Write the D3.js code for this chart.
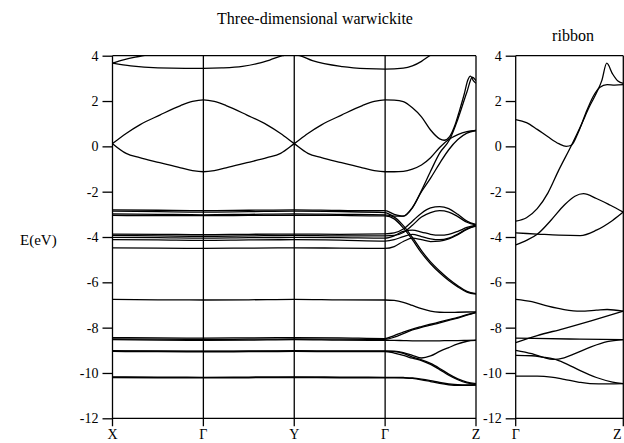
<!DOCTYPE html>
<html>
<head>
<meta charset="utf-8">
<script src="https://cdn.jsdelivr.net/npm/d3@7"></script>
<style>
  body { margin: 0; background: #fff; }
  text { font-family: "Liberation Serif", "Times New Roman", Times, "DejaVu Serif", serif; fill: #000; }
</style>
</head>
<body>
<script>
// k-path positions: X=0, Γ=1, Y=2, Γ=3, Z=4
const pathLabels = ['X', 'Γ', 'Y', 'Γ', 'Z'];
const ribbonLabels = ['Γ', 'Z'];
const yTicks = [4, 2, 0, -2, -4, -6, -8, -10, -12];

// shared grid for the nearly flat bands (X..Γ flat part, then Γ-Z detail)
const kGrid = [0, 0.5, 1, 1.5, 2, 2.5, 3, 3.1, 3.2, 3.3, 3.4, 3.5, 3.6, 3.7, 3.8, 3.9, 4];

const bandR2 = [-2.86,-2.88,-2.90,-2.88,-2.86,-2.88,-2.92, -3.08,-3.08,-2.70,-2.00,-1.40,-0.75,-0.15,0.30,0.58,0.70];
const bandD1 = [-2.98,-3.00,-3.02,-3.00,-2.98,-3.00,-3.02, -3.12,-3.50,-4.02,-4.60,-5.10,-5.50,-5.85,-6.15,-6.40,-6.50];
const bandD2 = [-3.04,-3.06,-3.06,-3.05,-3.04,-3.05,-3.07, -3.20,-3.60,-4.12,-4.70,-5.18,-5.58,-5.92,-6.20,-6.43,-6.52];
const bandA1 = [-3.87,-3.88,-3.90,-3.88,-3.87,-3.88,-3.86, -3.82,-3.65,-3.30,-2.95,-2.72,-2.66,-2.75,-3.00,-3.30,-3.45];
const bandA2 = [-3.93,-3.95,-3.97,-3.95,-3.93,-3.95,-3.95, -3.93,-3.80,-3.48,-3.12,-2.92,-2.84,-2.90,-3.10,-3.35,-3.47];
const bandB1 = [-4.02,-4.03,-4.05,-4.03,-4.02,-4.03,-4.05, -3.95,-3.75,-3.70,-3.78,-3.88,-3.92,-3.88,-3.75,-3.58,-3.48];
const bandB2 = [-4.12,-4.13,-4.15,-4.13,-4.12,-4.14,-4.18, -4.12,-3.98,-3.88,-3.98,-4.08,-4.12,-4.05,-3.87,-3.64,-3.50];
const bandB3 = [-4.48,-4.49,-4.50,-4.49,-4.48,-4.49,-4.50, -4.42,-4.20,-4.05,-4.12,-4.20,-4.18,-4.08,-3.90,-3.66,-3.52];
const bandE1 = [-6.75,-6.77,-6.78,-6.77,-6.75,-6.77,-6.78, -6.80,-6.88,-7.02,-7.16,-7.27,-7.32,-7.33,-7.32,-7.31,-7.30];
const bandF1 = [-8.44,-8.45,-8.46,-8.45,-8.44,-8.45,-8.48, -8.35,-8.20,-8.06,-7.95,-7.85,-7.75,-7.65,-7.55,-7.43,-7.32];
const bandF2 = [-8.50,-8.51,-8.52,-8.51,-8.50,-8.51,-8.52, -8.42,-8.26,-8.10,-7.99,-7.89,-7.79,-7.68,-7.58,-7.45,-7.33];
const bandK1 = [-8.53,-8.55,-8.56,-8.55,-8.53,-8.55,-8.56, -8.56,-8.57,-8.58,-8.58,-8.58,-8.58,-8.57,-8.57,-8.56,-8.55];
const bandG1 = [-9.02,-9.03,-9.04,-9.03,-9.02,-9.03,-9.03, -9.04,-9.10,-9.22,-9.34,-9.25,-9.05,-8.88,-8.72,-8.60,-8.56];
const bandG2 = [-9.05,-9.06,-9.07,-9.06,-9.05,-9.06,-9.06, -9.12,-9.22,-9.35,-9.45,-9.62,-9.85,-10.10,-10.30,-10.44,-10.50];
const bandG3 = [-9.04,-9.05,-9.05,-9.05,-9.04,-9.05,-9.05, -9.06,-9.14,-9.30,-9.42,-9.58,-9.80,-10.05,-10.26,-10.40,-10.47];
const bandH1 = [-10.17,-10.18,-10.19,-10.18,-10.17,-10.18,-10.19, -10.19,-10.20,-10.22,-10.27,-10.34,-10.42,-10.48,-10.52,-10.53,-10.52];
const bandH2 = [-10.20,-10.21,-10.21,-10.21,-10.20,-10.21,-10.21, -10.21,-10.22,-10.24,-10.30,-10.38,-10.46,-10.52,-10.55,-10.55,-10.53];

// dispersive bands with their own k points
const kCross = [0,0.15,0.3,0.52,0.75,0.88,1,1.12,1.25,1.48,1.7,1.85,2,2.15,2.3,2.52,2.75,2.88,3,
                3.1,3.2,3.3,3.4,3.5,3.6,3.7,3.8,3.9,4];
const bandAlpha = [0.12,0.57,0.95,1.38,1.8,1.98,2.05,1.98,1.8,1.38,0.95,0.57,0.12,-0.31,-0.5,-0.72,-0.95,-1.07,-1.12,
                   -1.12,-1.10,-1.00,-0.82,-0.50,-0.05,0.30,0.52,0.65,0.70];
const kBeta = [0,0.15,0.3,0.52,0.75,0.88,1,1.12,1.25,1.48,1.7,1.85,2,2.15,2.3,2.52,2.75,2.88,3,
               3.1,3.2,3.3,3.4,3.5,3.6,3.65,3.71,3.77,3.82,3.87,3.91,3.94,3.97,4];
const bandBeta = [0.12,-0.31,-0.5,-0.72,-0.95,-1.07,-1.12,-1.07,-0.95,-0.72,-0.5,-0.31,0.12,0.57,0.95,1.38,1.8,1.98,2.05,
                  2.04,1.97,1.70,1.30,0.72,0.33,0.27,0.43,0.95,1.60,2.30,2.93,3.10,2.90,2.78];
const kQ = [0,0.5,1,1.5,2,2.5,3,3.1,3.2,3.3,3.4,3.5,3.6,3.71,3.8,3.9,3.96,4];
const bandQ = [-2.80,-2.82,-2.84,-2.82,-2.80,-2.83,-2.84,-3.00,-3.08,-2.72,-1.95,-1.10,-0.30,0.30,1.20,2.40,3.05,2.90];
const kT1 = [0,0.12,0.25,0.34,0.45];
const bandT1 = [3.67,3.82,3.94,4.0,4.08];
const kT2 = [0,0.2,0.5,0.8,1,1.2,1.43,1.6,1.73,1.87,1.96,2.06,2.2,2.53,2.8,3,3.2,3.3,3.4,3.49,3.6];
const bandT2 = [3.67,3.55,3.46,3.44,3.44,3.46,3.53,3.66,3.81,4.0,4.06,4.0,3.78,3.52,3.43,3.41,3.45,3.55,3.75,4.0,4.25];

// ribbon bands, t from Γ (0) to Z (1)
const rib1t = [0,0.1,0.2,0.3,0.4,0.47,0.52,0.58,0.65,0.72,0.78,0.85,0.92,1];
const rib1E = [1.18,1.05,0.75,0.42,0.12,0.0,0.06,0.6,1.45,2.2,2.6,2.72,2.7,2.72];
const rib2t = [0,0.1,0.2,0.3,0.4,0.52,0.6,0.69,0.75,0.8,0.846,0.9,0.95,1];
const rib2E = [-3.3,-3.15,-2.75,-2.05,-1.05,0.06,0.85,1.8,2.35,2.9,3.67,3.2,2.88,2.78];
const rib3t = [0,0.1,0.2,0.33,0.45,0.55,0.63,0.75,0.88,1];
const rib3E = [-4.35,-4.15,-3.88,-3.25,-2.6,-2.2,-2.09,-2.3,-2.6,-2.9];
const rib4t = [0,0.2,0.4,0.6,0.75,0.9,1];
const rib4E = [-3.82,-3.87,-3.92,-3.94,-3.7,-3.27,-2.9];
const rib5t = [0,0.15,0.3,0.45,0.6,0.75,0.85,1];
const rib5E = [-6.75,-6.85,-7.05,-7.2,-7.27,-7.23,-7.2,-7.27];
const rib6t = [0,0.2,0.44,0.7,1];
const rib6E = [-8.66,-8.35,-8.05,-7.7,-7.27];
const rib7t = [0,0.5,1];
const rib7E = [-8.46,-8.5,-8.53];
const rib8t = [0,0.15,0.25,0.35,0.45,0.55,0.7,0.85,1];
const rib8E = [-9.0,-9.15,-9.3,-9.4,-9.33,-9.15,-8.85,-8.62,-8.53];
const rib9t = [0,0.15,0.25,0.35,0.45,0.6,0.75,0.9,1];
const rib9E = [-9.22,-9.24,-9.3,-9.38,-9.55,-9.9,-10.2,-10.4,-10.47];
const rib10t = [0,0.2,0.33,0.45,0.58,0.69,0.85,1];
const rib10E = [-10.14,-10.14,-10.18,-10.28,-10.4,-10.47,-10.48,-10.47];

const W = 624, H = 443;
const serif = '"Liberation Serif", "Times New Roman", Times, "DejaVu Serif", serif';
const svg = d3.select('body').append('svg')
    .attr('width', W)
    .attr('height', H);

const yTop = 55.7, yBot = 418.3;
const y = d3.scaleLinear().domain([-12, 4]).range([yBot, yTop]);
const x = d3.scaleLinear().domain([0, 4]).range([112.5, 476]);
const xr = d3.scaleLinear().domain([0, 1]).range([515.7, 623.3]);

// clip areas
const defs = svg.append('defs');
defs.append('clipPath').attr('id', 'clipMain').append('rect')
    .attr('x', x(0)).attr('y', yTop).attr('width', x(4) - x(0)).attr('height', yBot - yTop);
defs.append('clipPath').attr('id', 'clipRib').append('rect')
    .attr('x', xr(0)).attr('y', yTop).attr('width', xr(1) - xr(0)).attr('height', yBot - yTop);

const zip = (ks, es) => ks.map((k, i) => [k, es[i]]);

const mainBands = [
    zip(kGrid, bandR2), zip(kGrid, bandD1), zip(kGrid, bandD2),
    zip(kGrid, bandA1), zip(kGrid, bandA2), zip(kGrid, bandB1), zip(kGrid, bandB2), zip(kGrid, bandB3),
    zip(kGrid, bandE1), zip(kGrid, bandF1), zip(kGrid, bandF2), zip(kGrid, bandK1),
    zip(kGrid, bandG1), zip(kGrid, bandG2), zip(kGrid, bandG3), zip(kGrid, bandH1), zip(kGrid, bandH2),
    zip(kCross, bandAlpha), zip(kBeta, bandBeta), zip(kQ, bandQ),
    zip(kT1, bandT1), zip(kT2, bandT2)
];
const ribbonBands = [
    zip(rib1t, rib1E), zip(rib2t, rib2E), zip(rib3t, rib3E), zip(rib4t, rib4E), zip(rib5t, rib5E),
    zip(rib6t, rib6E), zip(rib7t, rib7E), zip(rib8t, rib8E), zip(rib9t, rib9E), zip(rib10t, rib10E)
];

const lineMain = d3.line().x(d => x(d[0])).y(d => y(d[1])).curve(d3.curveMonotoneX);
const lineRib = d3.line().x(d => xr(d[0])).y(d => y(d[1])).curve(d3.curveMonotoneX);

svg.append('g').attr('clip-path', 'url(#clipMain)')
    .selectAll('path').data(mainBands).enter().append('path')
    .attr('d', lineMain)
    .attr('fill', 'none').attr('stroke', '#000').attr('stroke-width', 1.3);

svg.append('g').attr('clip-path', 'url(#clipRib)')
    .selectAll('path').data(ribbonBands).enter().append('path')
    .attr('d', lineRib)
    .attr('fill', 'none').attr('stroke', '#000').attr('stroke-width', 1.3);

// frames: horizontal top/bottom and vertical high-symmetry lines with ticks below
const frame = svg.append('g').attr('stroke', '#000').attr('stroke-width', 1.3);
[[x(0), x(4)], [xr(0), xr(1)]].forEach(([a, b]) => {
    frame.append('line').attr('x1', a).attr('x2', b).attr('y1', y(4)).attr('y2', y(4));
    frame.append('line').attr('x1', a).attr('x2', b).attr('y1', y(-12)).attr('y2', y(-12));
});
d3.range(5).forEach(i => {
    frame.append('line').attr('x1', x(i)).attr('x2', x(i)).attr('y1', y(4)).attr('y2', y(-12) + 8);
});
[0, 1].forEach(i => {
    frame.append('line').attr('x1', xr(i)).attr('x2', xr(i)).attr('y1', y(4)).attr('y2', y(-12) + 8);
});

// y axes (plain hyphen minus like the original)
const yAxis = d3.axisLeft(y).tickValues(yTicks).tickSize(10).tickPadding(4).tickSizeOuter(0)
    .tickFormat(d => String(d));
[x(0), xr(0)].forEach(px => {
    const g = svg.append('g').attr('transform', `translate(${px},0)`).call(yAxis)
        .attr('font-family', serif).attr('font-size', 14);
    g.select('.domain').remove();
    g.selectAll('line').attr('stroke', '#000').attr('stroke-width', 1.3);
    g.selectAll('text').attr('fill', '#000');
});

// k-point labels
svg.selectAll('.klab').data(pathLabels).enter().append('text')
    .attr('x', (d, i) => x(i)).attr('y', 439)
    .attr('text-anchor', 'middle').style('font-size', '14px')
    .text(d => d);
svg.selectAll('.rlab').data(ribbonLabels).enter().append('text')
    .attr('x', (d, i) => xr(i) - (i ? 6 : 0)).attr('y', 439)
    .attr('text-anchor', 'middle').style('font-size', '14px')
    .text(d => d);

svg.append('text').attr('x', 315).attr('y', 24).attr('text-anchor', 'middle')
    .style('font-size', '16px').text('Three-dimensional warwickite');
svg.append('text').attr('x', 573).attr('y', 41).attr('text-anchor', 'middle')
    .style('font-size', '16px').text('ribbon');
svg.append('text').attr('x', 20).attr('y', 245)
    .style('font-size', '15px').text('E(eV)');
</script>
</body>
</html>
